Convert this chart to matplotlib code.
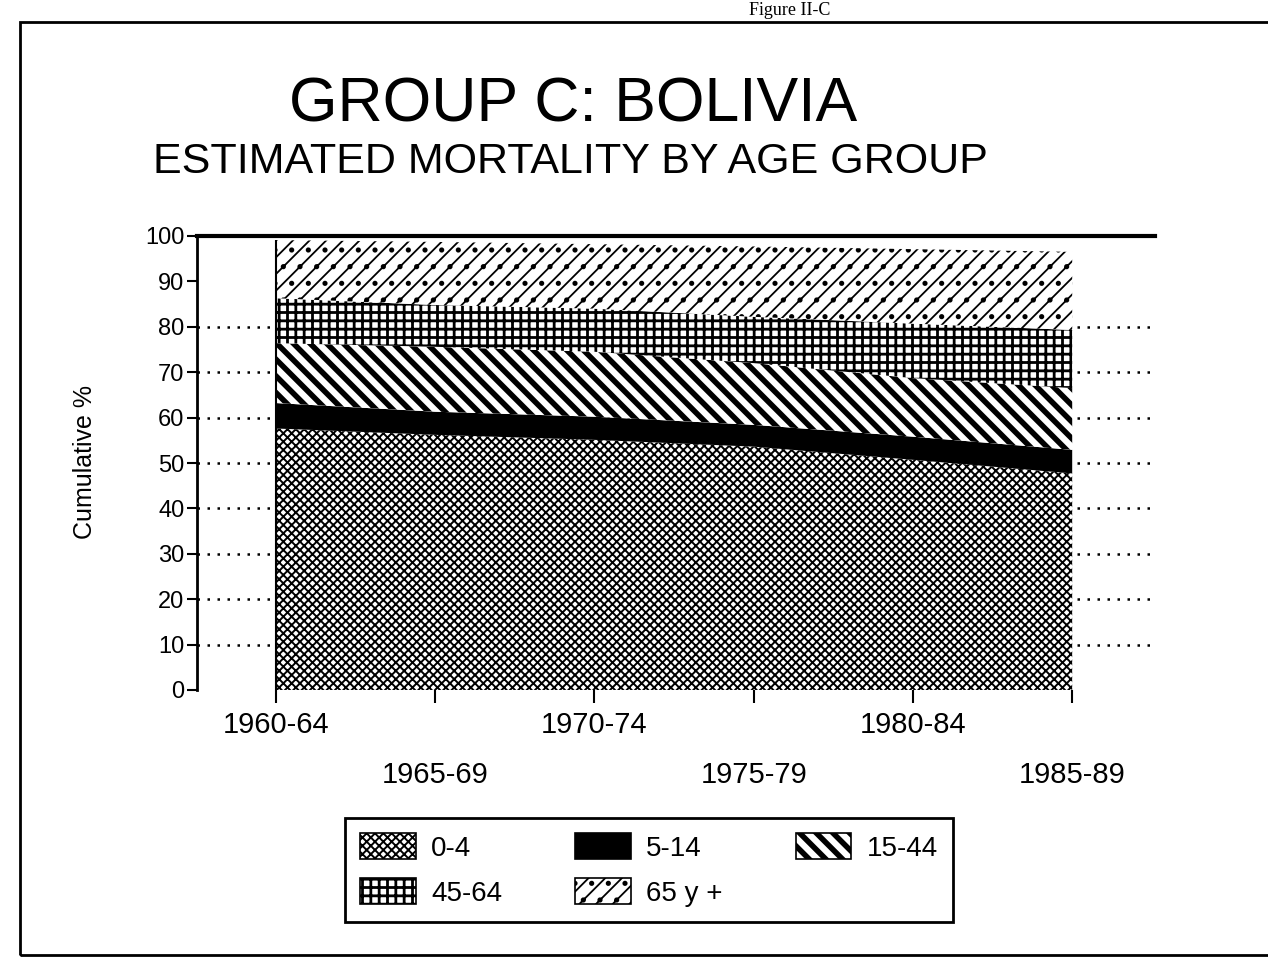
import numpy as np
import matplotlib.pyplot as plt
from matplotlib.patches import Patch, Rectangle

plt.rcParams['font.family'] = ['Liberation Sans', 'DejaVu Sans']

# Periods and cumulative-mortality shares by age group (%)
periods = ['1960-64', '1965-69', '1970-74', '1975-79', '1980-84', '1985-89']
age_groups = ['0-4', '5-14', '15-44', '45-64', '65 y +']
pct_0_4 = [57.6, 56.2, 55.1, 53.6, 50.7, 47.7]
pct_5_14 = [5.6, 5.1, 5.1, 4.8, 5.1, 5.2]
pct_15_44 = [13.2, 14.3, 14.3, 13.6, 12.9, 13.6]
pct_45_64 = [9.9, 9.2, 9.5, 10.2, 12.0, 12.8]
pct_65_up = [12.8, 13.9, 14.2, 15.5, 16.4, 17.2]
y_ticks = [0, 10, 20, 30, 40, 50, 60, 70, 80, 90, 100]
grid_ticks = [10, 20, 30, 40, 50, 60, 70, 80]

W, H = 1268, 966
fig = plt.figure(figsize=(W / 100, H / 100), dpi=100)

# outer page frame
fig.add_artist(Rectangle((20 / W, 1 - 955 / H), 1.2, (955 - 22) / H,
                         transform=fig.transFigure, fill=False,
                         edgecolor='black', lw=2))
fig.text(790 / W, 1 - 15 / H, 'Figure II-C', ha='center', va='baseline',
         fontsize=13, family='Liberation Serif')

fig.text(573 / W, 1 - 122 / H, 'GROUP C: BOLIVIA', ha='center',
         va='baseline', fontsize=45)
fig.text(570 / W, 1 - 173 / H, 'ESTIMATED MORTALITY BY AGE GROUP',
         ha='center', va='baseline', fontsize=31)

ax = fig.add_axes([197 / W, 1 - 690 / H, (1155 - 197) / W, (690 - 236) / H])
x = np.arange(len(periods))

hatches = ['xxxx', '', '\\\\', '++', '//.']
hatch_lw = [1.4, 1.0, 4.0, 2.0, 1.3]
faces = ['white', 'black', 'white', 'white', 'white']

polys = ax.stackplot(x, pct_0_4, pct_5_14, pct_15_44, pct_45_64, pct_65_up,
                     colors=faces, edgecolor='black', linewidth=0, zorder=2)
for p, h, lw in zip(polys, hatches, hatch_lw):
    p.set_hatch(h)
    if hasattr(p, 'set_hatch_linewidth'):
        p.set_hatch_linewidth(lw)

total = np.sum([pct_0_4, pct_5_14, pct_15_44, pct_45_64, pct_65_up], axis=0)
ax.vlines(x[0], 0, total[0], color='black', lw=1.5, zorder=3)

ax.set_xlim(-0.496, 5.52)
ax.set_ylim(0, 100)
ax.hlines(grid_ticks, -0.496, 5.52, colors='black', linestyles=(0, (1, 3)),
          lw=1.8, zorder=1)

for side in ['right', 'bottom']:
    ax.spines[side].set_visible(False)
ax.spines['top'].set_linewidth(3)
ax.spines['left'].set_linewidth(2)

ax.set_yticks(y_ticks)
ax.set_yticklabels([str(v) for v in y_ticks])
ax.tick_params(axis='y', direction='out', length=7, width=1.5,
               labelsize=17, pad=2)
ax.set_xticks(x)
ax.set_xticklabels(periods)
ax.tick_params(axis='x', direction='out', length=9, width=1.5,
               labelsize=21, pad=6)
for i, t in enumerate(ax.xaxis.get_major_ticks()):
    if i % 2 == 1:
        t.set_pad(42)

fig.text(85 / W, 1 - 462 / H, 'Cumulative %', rotation=90, ha='center',
         va='center', fontsize=18)

# legend in row order
handles = []
for f, h, lab in zip(faces, hatches, age_groups):
    handles.append(Patch(facecolor=f, edgecolor='black', hatch=h,
                         linewidth=1.2, label=lab))
order = [0, 3, 1, 4, 2]
leg = fig.legend([handles[i] for i in order],
                 [age_groups[i] for i in order], ncol=3,
                 loc='upper left', mode='expand', borderaxespad=0,
                 bbox_to_anchor=(345 / W, 1 - 942 / H, 608 / W, 124 / H),
                 fontsize=20, handlelength=2.0, handleheight=1.05,
                 handletextpad=0.55, labelspacing=0.6, borderpad=0.55,
                 frameon=True, fancybox=False, edgecolor='black',
                 framealpha=1)
leg.get_frame().set_linewidth(2)
for lp, i in zip(leg.get_patches(), order):
    if hasattr(lp, 'set_hatch_linewidth'):
        lp.set_hatch_linewidth(hatch_lw[i])

fig.savefig('out.png', dpi=100)
